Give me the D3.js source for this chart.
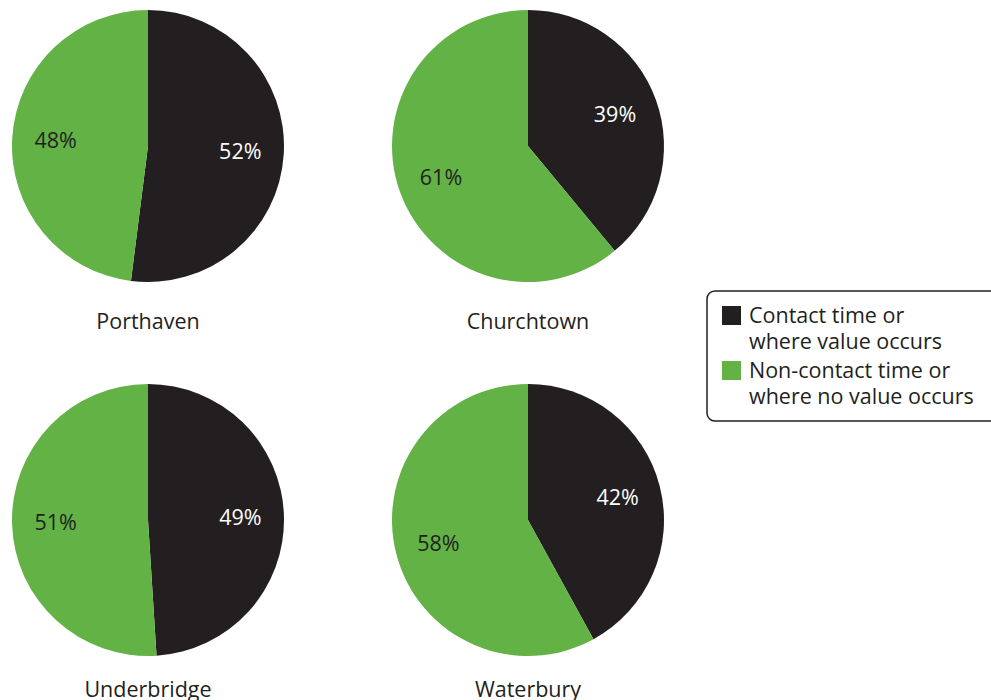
<!DOCTYPE html>
<html>
<head>
<meta charset="utf-8">
<script src="https://cdn.jsdelivr.net/npm/d3@7"></script>
<style>
  html, body { margin: 0; padding: 0; background: #fff; }
  svg { display: block; font-family: "Open Sans", "Noto Sans", sans-serif; }
</style>
</head>
<body>
<svg id="chart" width="991" height="700"></svg>
<script>
// Share of time per site
const sites = ["Porthaven", "Churchtown", "Underbridge", "Waterbury"];
const contact = [52, 39, 49, 42];
const nonContact = [48, 61, 51, 58];
const seriesNames = ["Contact time or\nwhere value occurs", "Non-contact time or\nwhere no value occurs"];
const seriesColors = ["#231f20", "#62b246"];
const labelColors = ["#ffffff", "#231f20"];

const svg = d3.select("#chart");

// 2x2 grid of pies: pie centres and site-name baselines
const col = d3.scalePoint().domain([0, 1]).range([148, 528]);
const row = d3.scalePoint().domain([0, 1]).range([146, 520]);
const nameRow = d3.scalePoint().domain([0, 1]).range([329, 697]);
const radius = 136;
const fontSize = 21.5;

const pie = d3.pie().sort(null).value(d => d.value);
const arc = d3.arc().innerRadius(0).outerRadius(radius);
const labelArc = d3.arc().innerRadius(radius * 0.68).outerRadius(radius * 0.68);

sites.forEach((site, i) => {
  const c = i % 2, r = Math.floor(i / 2);
  const cx = col(c);
  const cy = row(r);
  const g = svg.append("g").attr("transform", `translate(${cx},${cy})`);
  const data = [
    { value: contact[i], k: 0 },
    { value: nonContact[i], k: 1 }
  ];
  const arcs = pie(data);
  g.selectAll("path").data(arcs).join("path")
    .attr("d", arc)
    .attr("fill", d => seriesColors[d.data.k]);
  g.selectAll("text.pct").data(arcs).join("text")
    .attr("class", "pct")
    .attr("transform", d => `translate(${labelArc.centroid(d)})`)
    .attr("text-anchor", "middle")
    .attr("dy", "0.35em")
    .attr("font-size", fontSize)
    .attr("fill", d => labelColors[d.data.k])
    .text(d => d.data.value + "%");
  svg.append("text")
    .attr("x", cx)
    .attr("y", nameRow(r))
    .attr("text-anchor", "middle")
    .attr("font-size", fontSize)
    .attr("fill", "#231f20")
    .text(site);
});

// Legend
const legend = svg.append("g").attr("transform", "translate(707,291)");
legend.append("rect")
  .attr("x", 0).attr("y", 0)
  .attr("width", 300).attr("height", 130)
  .attr("rx", 8).attr("ry", 8)
  .attr("fill", "#fff")
  .attr("stroke", "#231f20")
  .attr("stroke-width", 1.5);

seriesNames.forEach((name, k) => {
  const top = 15 + k * 55;
  legend.append("rect")
    .attr("x", 15).attr("y", top)
    .attr("width", 19).attr("height", 19)
    .attr("fill", seriesColors[k]);
  const t = legend.append("text")
    .attr("font-size", fontSize)
    .attr("fill", "#231f20");
  name.split("\n").forEach((line, j) => {
    t.append("tspan")
      .attr("x", 42)
      .attr("y", top + 17 + j * 26)
      .text(line);
  });
});
</script>
</body>
</html>
